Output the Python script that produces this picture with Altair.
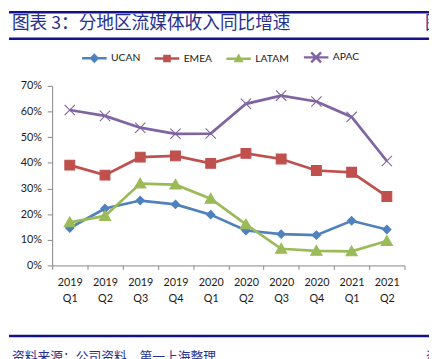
import altair as alt
import pandas as pd

# ---- data ----
quarters = ["2019 Q1", "2019 Q2", "2019 Q3", "2019 Q4", "2020 Q1",
            "2020 Q2", "2020 Q3", "2020 Q4", "2021 Q1", "2021 Q2"]
series = ["UCAN", "EMEA", "LATAM", "APAC"]
ucan = [0.146, 0.222, 0.253, 0.238, 0.198, 0.136, 0.122, 0.118, 0.174, 0.140]
emea = [0.391, 0.352, 0.422, 0.427, 0.398, 0.437, 0.415, 0.370, 0.363, 0.269]
latam = [0.168, 0.193, 0.319, 0.315, 0.260, 0.160, 0.065, 0.057, 0.055, 0.095]
apac = [0.606, 0.583, 0.537, 0.513, 0.514, 0.630, 0.662, 0.639, 0.579, 0.407]
y_ticks = [0.0, 0.1, 0.2, 0.3, 0.4, 0.5, 0.6, 0.7]

title_text = "图表 3：分地区流媒体收入同比增速"
next_title_text = "图表 4：流媒体会员"
source_text = "资料来源：公司资料，第一上海整理"
next_source_text = "资料来源：公司资料"

colors = ["#4F81BD", "#C0504D", "#9BBB59", "#8064A2"]
marker_paths = [
    "M0,-0.85L0.85,0L0,0.85L-0.85,0Z",
    "M-1,-1L1,-1L1,1L-1,1Z",
    "M0,-1.1L1.15,0.9L-1.15,0.9Z",
    "M-1.05,-1.05L1.05,1.05M-1.05,1.05L1.05,-1.05",
]
legend_paths = [
    "M-1,0L1,0M0,-0.26L0.26,0L0,0.26L-0.26,0Z",
    "M-1,0L1,0M-0.21,-0.21L0.21,-0.21L0.21,0.21L-0.21,0.21Z",
    "M-1,0L1,0M0,-0.22L0.24,0.19L-0.24,0.19Z",
    "M-1,0L1,0M-0.4,-0.4L0.4,0.4M-0.4,0.4L0.4,-0.4",
]

rows = []
for name, vals in zip(series, [ucan, emea, latam, apac]):
    for q, v in zip(quarters, vals):
        rows.append({"quarter": q, "series": name, "value": v})
df = pd.DataFrame(rows)

NAVY = "#12128A"
TITLE_COLOR = "#26308F"
LABEL_FONT = "Lato"
CJK_FONT = "Noto Sans CJK SC"
AXIS_COLOR = "#868686"
LABEL_COLOR = "#1a1a1a"

x_enc = alt.X(
    "quarter:N",
    sort=quarters,
    scale=alt.Scale(type="band", domain=quarters, paddingInner=0, paddingOuter=0),
    axis=alt.Axis(
        title=None, labelAngle=0, tickBand="extent", grid=False,
        domainColor=AXIS_COLOR, tickColor=AXIS_COLOR, tickSize=4,
        labelExpr="split(datum.label, ' ')", labelLineHeight=17,
        labelFont=LABEL_FONT, labelFontSize=11, labelColor=LABEL_COLOR,
        labelPadding=7,
    ),
)
y_enc = alt.Y(
    "value:Q",
    scale=alt.Scale(domain=[0, 0.7], nice=False, zero=True),
    axis=alt.Axis(
        title=None, values=y_ticks, format=".0%", grid=False,
        domainColor=AXIS_COLOR, tickColor=AXIS_COLOR, tickSize=5,
        labelFont=LABEL_FONT, labelFontSize=11, labelColor=LABEL_COLOR,
        labelPadding=6,
    ),
)

color_scale = alt.Scale(domain=series, range=colors)
base = alt.Chart(df)

lines = base.mark_line(strokeWidth=2.75).encode(
    x=x_enc, y=y_enc,
    color=alt.Color("series:N", scale=color_scale, legend=None),
)

points = base.mark_point(filled=True, opacity=1, strokeWidth=1.1, size=100).encode(
    x=x_enc, y=y_enc,
    color=alt.Color("series:N", scale=color_scale, legend=None),
    stroke=alt.Stroke("series:N", scale=color_scale, legend=None),
    shape=alt.Shape("series:N", scale=alt.Scale(domain=series, range=marker_paths), legend=None),
)

leg = alt.Legend(
    orient="none", legendX=29, legendY=-43, direction="horizontal", title=None,
    symbolSize=625, symbolStrokeWidth=2.5, symbolOpacity=1,
    labelFont=LABEL_FONT, labelFontSize=10.5, labelColor=LABEL_COLOR,
    labelOffset=3, columnPadding=9, padding=0,
)
legend_layer = base.transform_filter("false").mark_point(filled=True, opacity=1).encode(
    x=x_enc, y=y_enc,
    color=alt.Color("series:N", scale=color_scale, legend=leg),
    stroke=alt.Stroke("series:N", scale=color_scale, legend=leg),
    shape=alt.Shape("series:N", scale=alt.Scale(domain=series, range=legend_paths), legend=leg),
)


def deco_text(s, x, y, size, color, baseline="middle", weight="normal"):
    return alt.Chart(alt.Data(values=[{"t": s}])).mark_text(
        align="left", baseline=baseline, font=CJK_FONT, fontSize=size,
        color=color, fontWeight=weight,
    ).encode(text="t:N", x=alt.value(x), y=alt.value(y))


def deco_rule(y, width):
    return alt.Chart(alt.Data(values=[{"r": 1}])).mark_rule(
        color=NAVY, strokeWidth=width
    ).encode(x=alt.value(-44), x2=alt.value(400), y=alt.value(y))


decos = [
    deco_rule(-75, 2.5),
    deco_rule(-48, 2.5),
    deco_rule(255, 2.5),
    deco_text(title_text, -41, -63, 18, TITLE_COLOR),
    deco_text(next_title_text, 380, -63, 18, TITLE_COLOR),
    deco_text(source_text, -41, 270, 13, TITLE_COLOR, baseline="top"),
    deco_text(next_source_text, 381, 270, 13, TITLE_COLOR, baseline="top"),
]

chart = alt.layer(lines, points, legend_layer, *decos).resolve_scale(
    color="independent", stroke="independent", shape="independent"
).properties(
    width=359, height=183,
    autosize=alt.AutoSizeParams(type="none"),
    padding={"left": 45, "top": 76, "right": 25, "bottom": 92},
    background="white",
).configure_view(stroke="transparent")

chart.save("out.html", embed_options={"renderer": "svg", "actions": False})
